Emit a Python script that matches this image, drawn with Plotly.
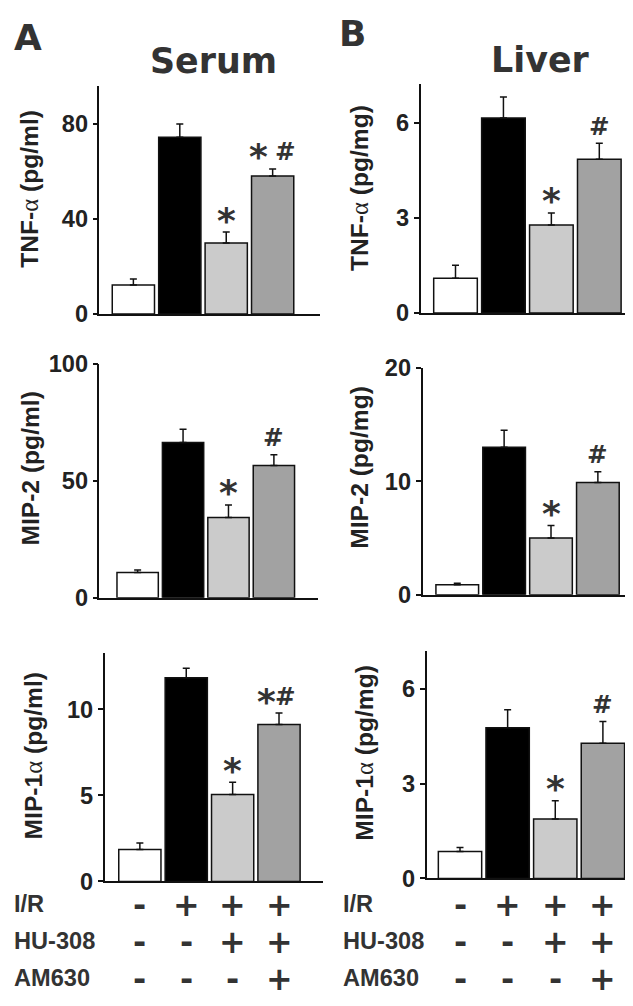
import plotly.graph_objects as go

# ---------------- data ----------------
groups = ["Sham", "I/R", "I/R+HU-308", "I/R+HU-308+AM630"]
bar_colors = ["#ffffff", "#000000", "#cbcbcb", "#a2a2a2"]

tnf_serum = [12.2, 74.5, 29.9, 58.1]
tnf_serum_err = [2.5, 5.5, 4.6, 3.0]
tnf_serum_sig = ["", "", "*", "* #"]
tnf_serum_ticks = [0, 40, 80]

tnf_liver = [1.1, 6.16, 2.78, 4.86]
tnf_liver_err = [0.41, 0.66, 0.38, 0.5]
tnf_liver_sig = ["", "", "*", "#"]
tnf_liver_ticks = [0, 3, 6]

mip2_serum = [10.8, 66.4, 34.3, 56.5]
mip2_serum_err = [1.0, 5.7, 5.4, 4.6]
mip2_serum_sig = ["", "", "*", "#"]
mip2_serum_ticks = [0, 50, 100]

mip2_liver = [0.88, 13.0, 5.0, 9.9]
mip2_liver_err = [0.12, 1.5, 1.1, 0.95]
mip2_liver_sig = ["", "", "*", "#"]
mip2_liver_ticks = [0, 10, 20]

mip1a_serum = [1.86, 11.84, 5.06, 9.13]
mip1a_serum_err = [0.37, 0.56, 0.71, 0.66]
mip1a_serum_sig = ["", "", "*", "*#"]
mip1a_serum_ticks = [0, 5, 10]

mip1a_liver = [0.85, 4.76, 1.88, 4.27]
mip1a_liver_err = [0.13, 0.57, 0.58, 0.69]
mip1a_liver_sig = ["", "", "*", "#"]
mip1a_liver_ticks = [0, 3, 6]

row_labels = ["I/R", "HU-308", "AM630"]
ir_row = ["-", "+", "+", "+"]
hu_row = ["-", "-", "+", "+"]
am_row = ["-", "-", "-", "+"]

# ---------------- layout helpers ----------------
W, H = 633, 1006
# the page is photographed slightly scaled/offset; map target pixels to paper coords
S, OX, OY = 0.975, 8.0, 20.3
ARIAL = "Liberation Sans, Arial, Helvetica, sans-serif"
WIDE = "DejaVu Sans, Verdana, sans-serif"
TXT = "#222222"
ALPHA = "<span style='font-family:Liberation Serif, Times New Roman, serif;font-weight:normal'>α</span>"


def clamp(v):
    return max(0.0, min(1.0, v))


def fx(X):
    return clamp((X / S - OX) / W)


def fy(Y):
    return clamp(1 - (Y / S - OY) / H)


def fs(size):
    return size / S


# (values, err, sig, ticks, title, x0, x1, ytop, ybase, ymax, xrange, title_pos)
panels = [
    (tnf_serum, tnf_serum_err, tnf_serum_sig, tnf_serum_ticks, "TNF-" + ALPHA + " (pg/ml)",
     97, 312, 85, 313, 96, [-0.73, 4.02], (28, 188)),
    (tnf_liver, tnf_liver_err, tnf_liver_sig, tnf_liver_ticks, "TNF-" + ALPHA + " (pg/mg)",
     410, 625, 83, 312, 7.23, [-0.73, 3.87], (350, 187)),
    (mip2_serum, mip2_serum_err, mip2_serum_sig, mip2_serum_ticks, "MIP-2 (pg/ml)",
     97, 310, 363, 597, 100, [-0.84, 3.97], (30, 468)),
    (mip2_liver, mip2_liver_err, mip2_liver_sig, mip2_liver_ticks, "MIP-2 (pg/mg)",
     412, 625, 367, 594, 20, [-0.74, 3.92], (351, 467)),
    (mip1a_serum, mip1a_serum_err, mip1a_serum_sig, mip1a_serum_ticks, "MIP-1" + ALPHA + " (pg/ml)",
     102, 315, 652, 881, 13.3, [-0.76, 3.95], (33, 755)),
    (mip1a_liver, mip1a_liver_err, mip1a_liver_sig, mip1a_liver_ticks, "MIP-1" + ALPHA + " (pg/mg)",
     416, 625, 650, 878, 7.2, [-0.7, 3.8], (355, 752)),
]

fig = go.Figure()
annotations = []
layout_axes = {}
xpos = list(range(len(groups)))

for i, (vals, err, sig, ticks, title, x0, x1, ytop, ybase, ymax, xr, tpos) in enumerate(panels):
    n = "" if i == 0 else str(i + 1)
    xa, ya = "x" + n, "y" + n
    fig.add_trace(go.Bar(
        x=xpos, y=vals, xaxis=xa, yaxis=ya,
        marker=dict(color=bar_colors, line=dict(color="#111111", width=1.5)),
        error_y=dict(type="data", array=err, arrayminus=[0] * len(err), symmetric=False,
                     color="#111111", thickness=1.5, width=3.5),
        width=0.91, showlegend=False, hoverinfo="skip",
    ))
    layout_axes["xaxis" + n] = dict(
        domain=[fx(x0), fx(x1)], anchor=ya, range=xr, showticklabels=False,
        ticks="", showgrid=False, zeroline=False, showline=True,
        linecolor="#111111", linewidth=1.5, fixedrange=True,
    )
    layout_axes["yaxis" + n] = dict(
        domain=[fy(ybase), fy(ytop)], anchor=xa, range=[0, ymax],
        tickvals=ticks, ticktext=[str(t) for t in ticks],
        ticks="outside", ticklen=5, tickwidth=1.5, tickcolor="#111111",
        tickfont=dict(family=ARIAL, size=fs(23), color=TXT, weight="bold"),
        showgrid=False, zeroline=False, showline=True,
        linecolor="#111111", linewidth=1.5, fixedrange=True,
    )
    # significance marks (separate glyphs so they share a vertical centre)
    for k, s in enumerate(sig):
        if not s:
            continue
        symbols = s.replace(" ", "")
        if len(symbols) == 1:
            shifts = [0]
        elif " " in s:
            shifts = [-14, 13]
        else:
            shifts = [-13, 6]
        for sym, dx in zip(symbols, shifts):
            if sym == "*":
                font = dict(family=WIDE, size=fs(35), color="#333333", weight="bold")
                dy = 12
            else:
                font = dict(family=WIDE, size=fs(24), color="#333333", weight="bold")
                dy = 17
            annotations.append(dict(
                x=xpos[k], y=vals[k] + err[k], xref=xa, yref=ya,
                text=sym, showarrow=False, yanchor="middle", xanchor="center",
                xshift=dx, yshift=dy, font=font,
            ))
    # y-axis title
    annotations.append(dict(
        x=fx(tpos[0]), y=fy(tpos[1]), xref="paper", yref="paper",
        text=title, textangle=-90, showarrow=False,
        xanchor="center", yanchor="middle",
        font=dict(family=ARIAL, size=fs(24), color=TXT, weight="bold"),
    ))

# treatment rows under bottom panels
row_y = [904, 941, 978]
for r, (lab, row) in enumerate(zip(row_labels, [ir_row, hu_row, am_row])):
    for lab_x, xa in [(12, "x5"), (332, "x6")]:
        annotations.append(dict(
            x=fx(lab_x), y=fy(row_y[r]), xref="paper", yref="paper",
            text=lab, showarrow=False, xanchor="left", yanchor="middle",
            font=dict(family=ARIAL, size=fs(23), color="#333333", weight="bold"),
        ))
        for k, s in enumerate(row):
            annotations.append(dict(
                x=xpos[k], y=fy(row_y[r]), xref=xa, yref="paper",
                text=s, showarrow=False, xanchor="center", yanchor="middle",
                font=dict(family=WIDE, size=fs(31), color="#333333", weight="bold"),
            ))

# panel letters and headers
for text, x, y, size in [("A", 27, 36, 35), ("B", 344, 32, 35),
                         ("Serum", 208, 60, 34), ("Liver", 527, 59, 34)]:
    annotations.append(dict(
        x=fx(x), y=fy(y), xref="paper", yref="paper", text=text, showarrow=False,
        xanchor="center", yanchor="middle",
        font=dict(family=WIDE, size=fs(size), color="#333333", weight="bold"),
    ))

fig.update_layout(
    width=W, height=H, margin=dict(l=0, r=0, t=0, b=0),
    paper_bgcolor="white", plot_bgcolor="white",
    showlegend=False, bargap=0.08,
    annotations=annotations,
    **layout_axes,
)

fig.write_html("out.html")
